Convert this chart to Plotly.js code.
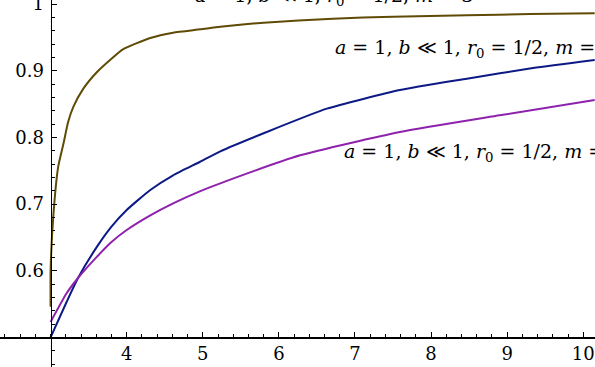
<!DOCTYPE html>
<html>
<head>
<meta charset="utf-8">
<script src="https://cdn.plot.ly/plotly-3.0.1.min.js"></script>
<style>html,body{margin:0;padding:0;background:#fff;}#chart{width:595px;height:367px;}
#chart text{font-family:"DejaVu Serif", serif !important;}</style>
</head>
<body>
<div id="chart"></div>
<script>
// Brown curve
const brownX = [3.0, 3.0, 3.035, 3.10, 3.17, 3.23, 3.30, 3.43, 3.61, 3.80, 3.95, 4.31, 4.61, 4.97, 5.23, 5.8, 6.71, 7.5, 8.47, 9.3, 10.15];
const brownY = [0.546, 0.60, 0.681, 0.756, 0.791, 0.823, 0.846, 0.873, 0.898, 0.918, 0.932, 0.949, 0.957, 0.962, 0.966, 0.972, 0.978, 0.981, 0.983, 0.985, 0.986];
// Blue curve
const blueX = [3.0, 3.21, 3.36, 3.61, 3.80, 4.0, 4.31, 4.61, 4.96, 5.23, 5.84, 6.63, 7.59, 8.47, 9.34, 10.15];
const blueY = [0.5, 0.553, 0.589, 0.636, 0.666, 0.691, 0.721, 0.743, 0.763, 0.779, 0.808, 0.843, 0.871, 0.888, 0.904, 0.916];
// Purple curve
const purpleX = [3.0, 3.21, 3.36, 3.61, 3.80, 4.0, 4.31, 4.61, 4.96, 5.23, 6.28, 7.59, 8.90, 10.15];
const purpleY = [0.523, 0.566, 0.589, 0.621, 0.643, 0.661, 0.683, 0.701, 0.719, 0.731, 0.773, 0.808, 0.833, 0.856];

const xTicks = [4, 5, 6, 7, 8, 9, 10];
const xTickText = ['4', '5', '6', '7', '8', '9', '10'];
const yTicks = [0.6, 0.7, 0.8, 0.9, 1.0];
const yTickText = ['0.6', '0.7', '0.8', '0.9', '1'];

const labelText = '<i>a</i> = 1, <i>b</i> ≪ 1, <i>r</i><sub>0</sub> = 1/2, <i>m</i> = ';
const labelM = ['3', '1', '2'];
const labelX = [4.87, 6.71, 6.83];
const labelY = [1.0, 0.933, 0.777];
const labelAnchorY = ['bottom', 'middle', 'middle'];
const labelShift = [-7, 0, 0];

const lineW = 2;
const traces = [
  {x: brownX, y: brownY, mode: 'lines', line: {color: '#5f4b05', width: lineW, shape: 'spline', smoothing: 0.5}},
  {x: blueX, y: blueY, mode: 'lines', line: {color: '#0d1a85', width: lineW, shape: 'spline', smoothing: 0.5}},
  {x: purpleX, y: purpleY, mode: 'lines', line: {color: '#8e22ad', width: lineW, shape: 'spline', smoothing: 0.5}}
];

const serif = 'DejaVu Serif';
const tickFont = {family: serif, size: 18, color: '#000'};
const layout = {
  width: 595, height: 367,
  margin: {l: 0, r: 0, t: 0, b: 0},
  paper_bgcolor: '#fff', plot_bgcolor: '#fff',
  showlegend: false,
  font: {family: serif},
  xaxis: {
    range: [2.335, 10.154], anchor: 'free', position: 29.7/367,
    showline: true, linecolor: '#000', linewidth: 1.5,
    showgrid: false, zeroline: false, ticklabeloverflow: 'allow',
    tickmode: 'array', tickvals: xTicks, ticktext: xTickText,
    ticks: 'inside', ticklen: 5, tickwidth: 1, tickcolor: '#000',
    minor: {dtick: 0.2, ticks: 'inside', ticklen: 3, tickwidth: 1, tickcolor: '#000', showgrid: false},
    tickfont: tickFont
  },
  yaxis: {
    range: [0.4555, 1.006], anchor: 'free', position: 50.6/595,
    showline: true, linecolor: '#000', linewidth: 1.5,
    showgrid: false, zeroline: false, ticklabeloverflow: 'allow',
    ticklabelstandoff: 3,
    tickmode: 'array', tickvals: yTicks, ticktext: yTickText,
    ticks: 'inside', ticklen: 5, tickwidth: 1, tickcolor: '#000',
    minor: {dtick: 0.02, ticks: 'inside', ticklen: 3, tickwidth: 1, tickcolor: '#000', showgrid: false},
    tickfont: tickFont
  },
  annotations: labelX.map((x, i) => ({
    x: x, y: labelY[i], xref: 'x', yref: 'y',
    text: labelText + labelM[i], showarrow: false,
    xanchor: 'left', yanchor: labelAnchorY[i], yshift: labelShift[i],
    font: {family: serif, size: 19, color: '#000'}
  }))
};

Plotly.newPlot('chart', traces, layout, {displayModeBar: false, staticPlot: true});
</script>
</body>
</html>
